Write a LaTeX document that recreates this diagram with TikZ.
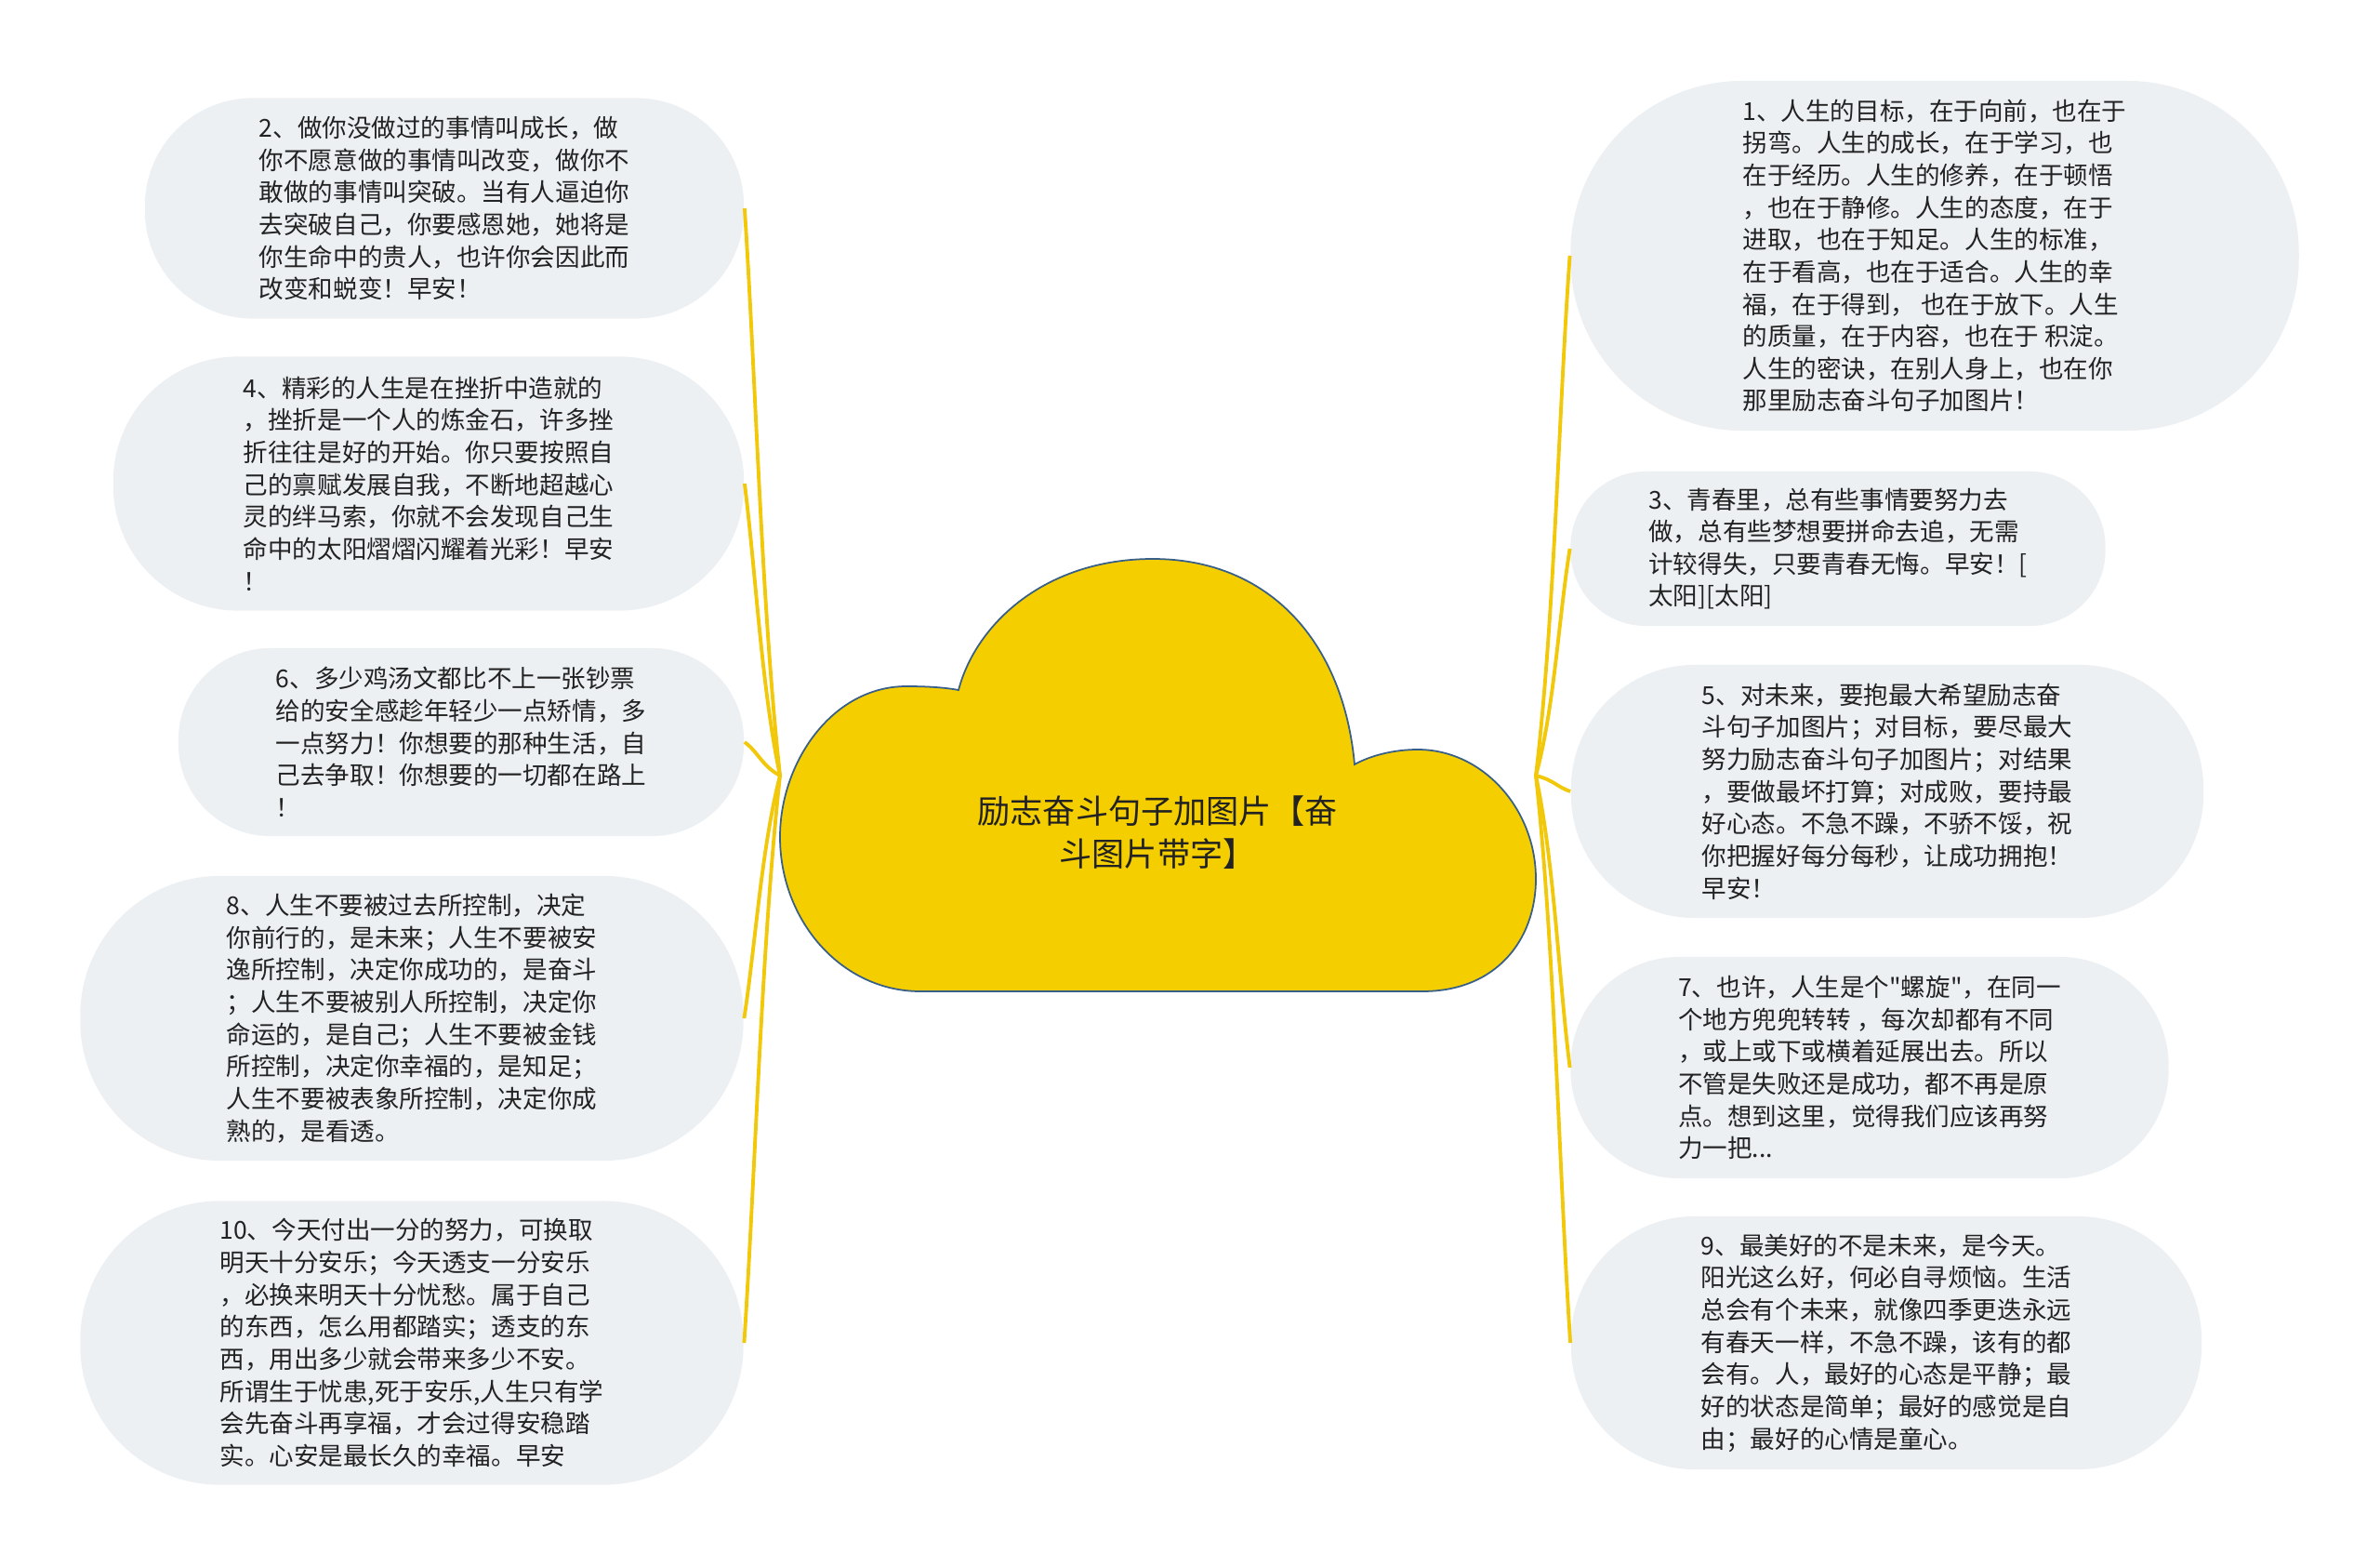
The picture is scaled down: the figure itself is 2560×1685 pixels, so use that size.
\documentclass[tikz,border=0pt]{standalone}
\usepackage{fontspec}
\usepackage{xcolor}
\usepackage{tikz}
\newfontfamily\cjk{Noto Sans CJK SC}
\definecolor{bubblegray}{RGB}{237,240,243}
\definecolor{cloudyellow}{RGB}{245,206,0}
\definecolor{cloudedge}{RGB}{55,95,135}
\definecolor{linkyellow}{RGB}{242,200,10}
\definecolor{inktext}{RGB}{34,34,34}

\begin{document}
\begin{tikzpicture}[x=0.01cm, y=-0.01cm,
		bubble/.style={rectangle, fill=bubblegray, align=left, text=inktext, inner sep=0pt,
			font=\cjk\fontsize{7.55}{9.85}\selectfont},
		link/.style={draw=linkyellow, line width=1.1pt}]
	\useasboundingbox[fill=white] (0,0) rectangle (2560,1685);

	% central cloud
	\filldraw[fill=cloudyellow, draw=cloudedge, line width=0.5pt] (990,1066) -- (1530,1066)
		.. controls (1610,1066) and (1652,1010) .. (1652,945)
		.. controls (1652,870) and (1595,806) .. (1525,806)
		.. controls (1500,806) and (1475,812) .. (1457,822)
		.. controls (1445,690) and (1365,601) .. (1240,601)
		.. controls (1125,601) and (1050,670) .. (1031,742)
		.. controls (1015,739) and (995,738) .. (975,738)
		.. controls (895,738) and (839,820) .. (839,900)
		.. controls (839,990) and (905,1066) .. (990,1066) -- cycle;
	\node[align=center, text=inktext, font=\cjk\fontsize{10}{13}\selectfont] (title) at (1245,895)
		{励志奋斗句子加图片【奋\\斗图片带字】};
	\coordinate (hubL) at (839,834);
	\coordinate (hubR) at (1652,834);

	% left side
	\node[bubble, rounded corners=1.16cm, minimum width=6.44cm, minimum height=2.37cm] (tip2) at (478,224)
		{2、做你没做过的事情叫成长，做\\你不愿意做的事情叫改变，做你不\\敢做的事情叫突破。当有人逼迫你\\去突破自己，你要感恩她，她将是\\你生命中的贵人，也许你会因此而\\改变和蜕变！早安！};
	\node[bubble, rounded corners=1.34cm, minimum width=6.78cm, minimum height=2.73cm] (tip4) at (461,520)
		{4、精彩的人生是在挫折中造就的\\，挫折是一个人的炼金石，许多挫\\折往往是好的开始。你只要按照自\\己的禀赋发展自我，不断地超越心\\灵的绊马索，你就不会发现自己生\\命中的太阳熠熠闪耀着光彩！早安\\！};
	\node[bubble, rounded corners=0.99cm, minimum width=6.08cm, minimum height=2.02cm] (tip6) at (496,798)
		{6、多少鸡汤文都比不上一张钞票\\给的安全感趁年轻少一点矫情，多\\一点努力！你想要的那种生活，自\\己去争取！你想要的一切都在路上\\！};
	\node[bubble, rounded corners=1.5cm, minimum width=7.13cm, minimum height=3.06cm] (tip8) at (443,1095)
		{8、人生不要被过去所控制，决定\\你前行的，是未来；人生不要被安\\逸所控制，决定你成功的，是奋斗\\；人生不要被别人所控制，决定你\\命运的，是自己；人生不要被金钱\\所控制，决定你幸福的，是知足；\\人生不要被表象所控制，决定你成\\熟的，是看透。};
	\node[bubble, rounded corners=1.5cm, minimum width=7.13cm, minimum height=3.05cm] (tip10) at (443,1444)
		{10、今天付出一分的努力，可换取\\明天十分安乐；今天透支一分安乐\\，必换来明天十分忧愁。属于自己\\的东西，怎么用都踏实；透支的东\\西，用出多少就会带来多少不安。\\所谓生于忧患,死于安乐,人生只有学\\会先奋斗再享福，才会过得安稳踏\\实。心安是最长久的幸福。早安};

	% right side
	\node[bubble, rounded corners=1.85cm, minimum width=7.83cm, minimum height=3.76cm] (tip1) at (2081,275)
		{1、人生的目标，在于向前，也在于\\拐弯。人生的成长，在于学习，也\\在于经历。人生的修养，在于顿悟\\，也在于静修。人生的态度，在于\\进取，也在于知足。人生的标准，\\在于看高，也在于适合。人生的幸\\福，在于得到， 也在于放下。人生\\的质量，在于内容，也在于 积淀。\\人生的密诀，在别人身上，也在你\\那里励志奋斗句子加图片！};
	\node[bubble, rounded corners=0.81cm, minimum width=5.75cm, minimum height=1.66cm] (tip3) at (1977,590)
		{3、青春里，总有些事情要努力去\\做，总有些梦想要拼命去追，无需\\计较得失，只要青春无悔。早安！[\\太阳][太阳]};
	\node[bubble, rounded corners=1.33cm, minimum width=6.8cm, minimum height=2.72cm] (tip5) at (2030,851)
		{5、对未来，要抱最大希望励志奋\\斗句子加图片；对目标，要尽最大\\努力励志奋斗句子加图片；对结果\\，要做最坏打算；对成败，要持最\\好心态。不急不躁，不骄不馁，祝\\你把握好每分每秒，让成功拥抱！\\早安！};
	\node[bubble, rounded corners=1.17cm, minimum width=6.43cm, minimum height=2.38cm] (tip7) at (2011,1148)
		{7、也许，人生是个"螺旋"，在同一\\个地方兜兜转转 ，每次却都有不同\\，或上或下或横着延展出去。所以\\不管是失败还是成功，都不再是原\\点。想到这里，觉得我们应该再努\\力一把...};
	\node[bubble, rounded corners=1.33cm, minimum width=6.78cm, minimum height=2.72cm] (tip9) at (2029,1444)
		{9、最美好的不是未来，是今天。\\阳光这么好，何必自寻烦恼。生活\\总会有个未来，就像四季更迭永远\\有春天一样，不急不躁，该有的都\\会有。人，最好的心态是平静；最\\好的状态是简单；最好的感觉是自\\由；最好的心情是童心。};

	% connectors
	\draw[link] (hubL) .. controls +(-20,-183) and +(12,183) .. (tip2.east);
	\draw[link] (hubL) .. controls +(-20,-95) and +(12,95) .. (tip4.east);
	\draw[link] (hubL) .. controls +(-20,-11) and +(15,11) .. (tip6.east);
	\draw[link] (hubL) .. controls +(-20,78) and +(12,-78) .. (tip8.east);
	\draw[link] (hubL) .. controls +(-20,183) and +(12,-183) .. (tip10.east);
	\draw[link] (hubR) .. controls +(20,-167) and +(-12,167) .. (tip1.west);
	\draw[link] (hubR) .. controls +(20,-73) and +(-12,73) .. (tip3.west);
	\draw[link] (hubR) .. controls +(20,5) and +(-15,-5) .. (tip5.west);
	\draw[link] (hubR) .. controls +(20,95) and +(-12,-95) .. (tip7.west);
	\draw[link] (hubR) .. controls +(20,183) and +(-12,-183) .. (tip9.west);
\end{tikzpicture}
\end{document}
